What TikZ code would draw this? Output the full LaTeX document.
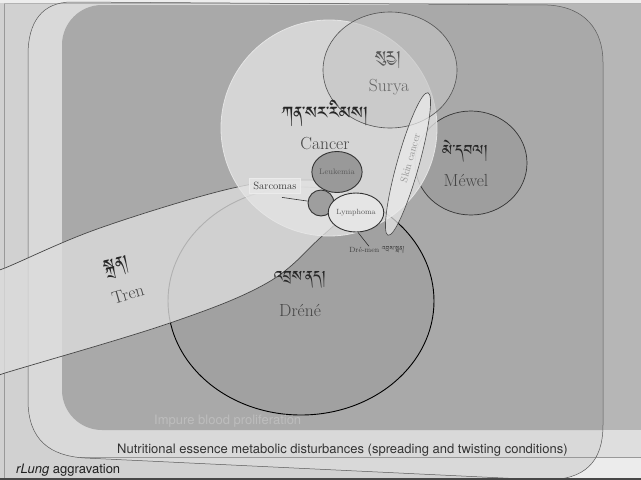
\documentclass[tikz,border=0pt]{standalone}
\usepackage{fontspec}
\usetikzlibrary{shapes.geometric}
\newfontfamily\helv{TeX Gyre Heros}
\IfFontExistsTF{Jomolhari}{\newfontfamily\tib[Script=Tibetan]{Jomolhari}}{%
  \IfFontExistsTF{Tibetan Machine Uni}{\newfontfamily\tib[Script=Tibetan]{Tibetan Machine Uni}}{\newfontfamily\tib{DejaVu Sans}}}
\definecolor{bgA}{HTML}{D1D1D1}
\definecolor{topS}{HTML}{EDEDED}
\definecolor{impOnly}{HTML}{B6B6B6}
\definecolor{nutri}{HTML}{D9D9D9}
\definecolor{inner}{HTML}{A9A9A9}
\definecolor{bandR}{HTML}{DEDEDE}
\definecolor{bandW}{HTML}{ECECEC}
\definecolor{dreneF}{HTML}{A1A1A1}
\definecolor{mewelF}{HTML}{9E9E9E}
\definecolor{trenF}{HTML}{DCDCDC}
\definecolor{cancerF}{HTML}{E4E4E4}
\definecolor{suryaF}{HTML}{C4C4C4}
\definecolor{txt}{HTML}{454545}
\newcommand\nutripath{(28,55) .. controls (28,22) and (42,2) .. (72,2) -- (548,5) .. controls (585,7) and (603,30) .. (603,62) -- (603,425) .. controls (603,462) and (585,480) .. (545,480) -- (85,458) .. controls (50,456) and (28,440) .. (28,400) -- cycle}
\begin{document}
\begin{tikzpicture}[x=1pt,y=-1pt,
  big/.style={font=\fontsize{17.5}{20}\selectfont, text=txt, inner sep=0pt},
  tibl/.style={font=\tib\fontsize{19}{22}\selectfont, text=black!85, inner sep=0pt},
  small/.style={font=\fontsize{8}{9}\selectfont, text=black!65, inner sep=0pt},
  sansl/.style={font=\helv\fontsize{13}{15}\selectfont, inner sep=0pt, anchor=west}]
\useasboundingbox (0,0) rectangle (641,480);
% ---------- background layers
\fill[bgA] (0,0) rectangle (641,480);
\fill[topS] (0,0) rectangle (641,3);
\fill[impOnly] (300,4) rectangle (641,430);
\fill[bandR] (560,430) rectangle (641,457);
\fill[bandW] (560,457) rectangle (641,478);
\fill[nutri] \nutripath;
\begin{scope}
  \clip \nutripath;
  \fill[inner, rounded corners=40pt] (62,5) rectangle (720,430);
\end{scope}
\draw[black!40, line width=0.5pt] (4,3) -- (4,478);
\draw[black!30, line width=0.4pt] (4,3) -- (641,3);
\draw[black!40, line width=0.5pt] (80,457) -- (641,457);
\draw[black!65, line width=0.5pt] \nutripath;
\draw[black!72, line width=2pt] (0,479) -- (641,479);
% ---------- Dréné
\fill[dreneF] (301,301) ellipse [x radius=133pt, y radius=114pt];
\draw[black, line width=0.9pt] (301,301) ellipse [x radius=133pt, y radius=114pt];
% ---------- Méwel
\fill[mewelF] (471,163) ellipse [x radius=56pt, y radius=52pt];
\draw[black!80, line width=0.7pt] (471,163) ellipse [x radius=56pt, y radius=52pt];
% ---------- Tren
\path[fill=trenF, fill opacity=0.8, draw=black!72, line width=0.7pt]
  plot[smooth cycle, tension=0.6] coordinates {(-40,286) (5,268) (100,228) (233,188) (310,180) (345,190) (350,208) (320,238) (267,283) (170,323) (5,373) (-40,387)};
% ---------- Cancer
\path[fill=cancerF, fill opacity=0.76, draw=white!90!black, line width=0.8pt] (329,128) circle [radius=108pt];
% ---------- Surya
\path[fill=suryaF, fill opacity=0.6, draw=black!68, line width=0.6pt] (390,70) ellipse [x radius=67pt, y radius=58pt];
% ---------- Skin cancer
\path[fill=white!92!black, fill opacity=0.7, draw=black!70, line width=0.6pt, rotate around={74.4:(408,164)}] (408,164) ellipse [x radius=74pt, y radius=11pt];
% ---------- small circles
\node[ellipse, draw=black!80, line width=0.9pt, fill=black!40, minimum width=50pt, minimum height=41pt, inner sep=0pt, small] (leuk) at (337,172) {Leukemia};
\node[circle, draw=black!80, line width=0.9pt, fill=black!38, minimum size=26pt, inner sep=0pt] (sarc) at (321,203) {};
\node[ellipse, draw=black!80, line width=0.9pt, fill=white!90!black, minimum width=50pt, minimum height=39pt, inner sep=0pt, small, font=\fontsize{7.5}{9}\selectfont] (lymph) at (356,212.5) {Lymphoma};
\node[draw=white!92!black, line width=0.8pt, fill=white!90!black, fill opacity=0.85, text opacity=1, minimum width=51pt, minimum height=15pt, inner sep=0pt, font=\fontsize{10.5}{12}\selectfont, text=black!75] (sarcbox) at (275,185.5) {Sarcomas};
\node[inner sep=0pt, font=\fontsize{7.5}{9}\selectfont, text=black!75] (dremen) at (377,250) {Dré-men {\tib\fontsize{8}{9}\selectfont འབྲས་སྨན།}};
\draw[black!80, line width=0.6pt] (sarcbox.south) ++(7,4) -- (sarc);
\draw[black!80, line width=0.6pt] (lymph.south) ++(2,0) -- ([xshift=-8pt]dremen.north);
% ---------- labels
\node[tibl, font=\tib\fontsize{22}{24}\selectfont] (tcancer) at (325,113) {ཀན་སར་རིམས།};
\node[big] (lcancer) at (325,144) {Cancer};
\node[tibl, text=black!65, font=\tib\fontsize{20}{22}\selectfont] (tsurya) at (388,60) {སུརྱ།};
\node[big, text=black!60] (lsurya) at (389,87) {Surya};
\node[tibl] (tmewel) at (465,151) {མེ་དབལ།};
\node[big] (lmewel) at (466,180) {Méwel};
\node[tibl] (tdrene) at (300,280) {འབྲས་ནད།};
\node[big] (ldrene) at (300,310) {Dréné};
\node[tibl, rotate=12, font=\tib\fontsize{21}{23}\selectfont] (ttren) at (117,268) {སྐྲན།};
\node[big, rotate=16] (ltren) at (128,294) {Tren};
\node[inner sep=0pt, rotate=74.4, font=\fontsize{10}{12}\selectfont, text=black!42] (lskin) at (410,158) {Skin cancer};
\node[sansl, text=white!74!black] (limpure) at (154,421) {Impure blood proliferation};
\node[sansl, text=black!80] (lnutri) at (117,450) {Nutritional essence metabolic disturbances (spreading and twisting conditions)};
\node[sansl, text=black!88] (lrlung) at (16,470) {\textit{rLung} aggravation};
\end{tikzpicture}
\end{document}
